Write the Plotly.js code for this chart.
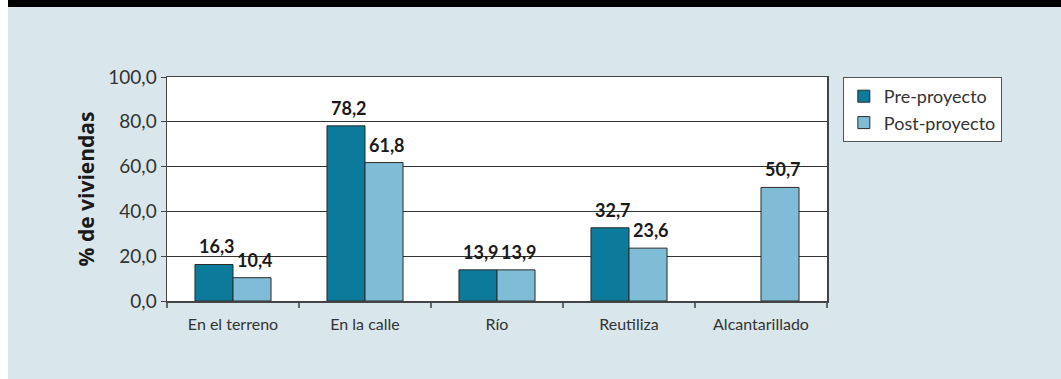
<!DOCTYPE html>
<html>
<head>
<meta charset="utf-8">
<script src="https://cdn.plot.ly/plotly-3.0.1.min.js"></script>
<style>
  html, body { margin: 0; padding: 0; background: #ffffff; }
  #frame { position: absolute; left: 8px; top: 0; width: 1053px; height: 379px; background: #d9e7ec; }
  #band { position: absolute; left: 8px; top: 0; width: 1053px; height: 7px; background: #000000; }
  #chart { position: absolute; left: 0; top: 0; width: 1061px; height: 379px; }
</style>
</head>
<body>
<div id="frame"></div>
<div id="band"></div>
<div id="chart"></div>
<script>
// Destino de las aguas grises, porcentaje de viviendas
const categories = ['En el terreno', 'En la calle', 'Río', 'Reutiliza', 'Alcantarillado'];
const preProyecto = [16.3, 78.2, 13.9, 32.7, null];
const postProyecto = [10.4, 61.8, 13.9, 23.6, 50.7];
const yTicks = [0, 20, 40, 60, 80, 100];

const FONT = 'Lato, "Open Sans", sans-serif';
const BAR_PX = 38; // width of one bar in pixels, used to offset the value labels

const fmt = v => v.toFixed(1).replace('.', ',');

// value labels above each bar, built from the series
const valueLabels = [];
[[preProyecto, -1], [postProyecto, 1]].forEach(([series, side]) => {
  series.forEach((v, i) => {
    if (v === null) return;
    valueLabels.push({
      x: categories[i], y: v, xref: 'x', yref: 'y',
      text: '<b>' + fmt(v) + '</b>', showarrow: false,
      xanchor: 'center', yanchor: 'bottom',
      xshift: side * BAR_PX / 2 + 3, yshift: 5,
      font: { family: FONT, size: 18, color: '#1a1a1a' }
    });
  });
});

const traces = [
  {
    type: 'bar', name: 'Pre-proyecto', x: categories, y: preProyecto,
    marker: { color: '#0b7a9b', line: { color: '#2b2b2b', width: 1 } },
    hoverinfo: 'skip'
  },
  {
    type: 'bar', name: 'Post-proyecto', x: categories, y: postProyecto,
    marker: { color: '#7fbcd6', line: { color: '#2b2b2b', width: 1 } },
    hoverinfo: 'skip'
  }
];

const layout = {
  width: 1061, height: 379,
  margin: { l: 167, r: 234, t: 77, b: 78, pad: 0 },
  paper_bgcolor: 'rgba(0,0,0,0)',
  plot_bgcolor: '#ffffff',
  separators: ',.',
  barmode: 'group',
  bargap: 0.424,
  bargroupgap: 0,
  font: { family: FONT, color: '#333333' },
  showlegend: true,
  legend: {
    x: 1.024, y: 1.0, xanchor: 'left', yanchor: 'top',
    bgcolor: '#ffffff', bordercolor: '#555555', borderwidth: 1,
    font: { family: FONT, size: 18, color: '#333333' },
    tracegroupgap: 0
  },
  annotations: valueLabels,
  xaxis: {
    type: 'category',
    showline: true, linecolor: '#444444', linewidth: 1.5,
    mirror: true,
    ticks: 'outside', tickson: 'boundaries', ticklen: 5, tickcolor: '#666666', tickwidth: 1.5,
    tickfont: { family: FONT, size: 16, color: '#333333' },
    ticklabelstandoff: 8,
    showgrid: false, fixedrange: true
  },
  yaxis: {
    range: [0, 100],
    tickvals: yTicks, tickformat: '.1f',
    showline: true, linecolor: '#444444', linewidth: 1.5,
    mirror: true,
    ticks: 'outside', ticklen: 5, tickcolor: '#444444', tickwidth: 1,
    tickfont: { family: FONT, size: 19, color: '#333333' },
    showgrid: true, gridcolor: '#333333', gridwidth: 1,
    zeroline: false,
    title: { text: '% de viviendas', font: { family: '"Open Sans", sans-serif', size: 21, color: '#1a1a1a', weight: 'bold' }, standoff: 8 },
    automargin: false, fixedrange: true
  }
};

Plotly.newPlot('chart', traces, layout, { displayModeBar: false, staticPlot: true });
</script>
</body>
</html>
